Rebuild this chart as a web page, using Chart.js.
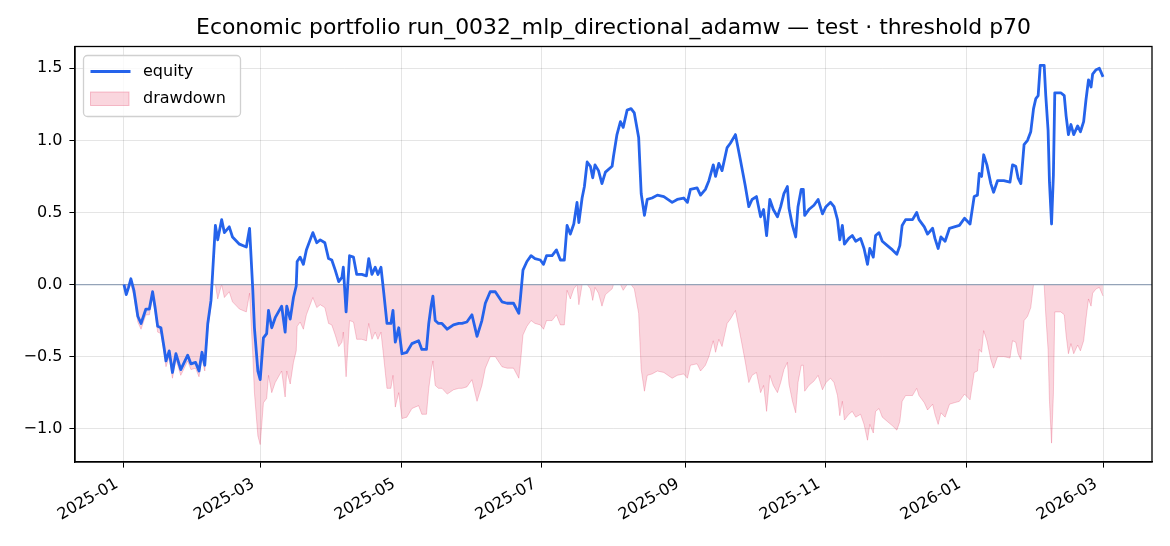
<!DOCTYPE html>
<html>
<head>
<meta charset="utf-8">
<script src="https://cdn.jsdelivr.net/npm/chart.js@4.4.1/dist/chart.umd.min.js"></script>
<style>
html, body { margin: 0; padding: 0; background: #fff; }
</style>
</head>
<body>
<canvas id="portfolioChart" width="1170" height="546"></canvas>
<script>
// days since 2025-01-01
var days = [0, 1, 2, 3, 4.3, 6, 7.4, 9.5, 11, 12.4, 13.5, 14.6, 16, 17.4, 18.2, 19.6, 21, 22.5, 24.6, 27.6,
    29, 31, 32.5, 33.8, 35, 36.3, 37.7, 38.4, 39.6, 40.6, 42.3, 43.5, 45.6, 47, 50, 53, 54.4, 55.8, 56.5, 58,
    59, 60.4, 61.8, 62.6, 64, 65.5, 68.3, 69.8, 70.5, 72, 73.4, 74.6, 75, 76.3, 77.7, 79, 81.8, 83.5, 85, 87,
    88.6, 90, 91.5, 93, 94.4, 95, 96.2, 97.7, 99.4, 100.8, 103, 105, 106, 107.4, 108.8, 110, 111.3, 112.4, 113.9, 115.6,
    116.5, 117.5, 119, 120.4, 122.5, 124.7, 127.6, 129, 131, 132, 133, 133.8, 134.8, 136.2, 137.7, 140, 142.7, 145, 146.4, 148.5,
    150.7, 152.9, 155, 156.5, 158.6, 160.8, 163.7, 165.9, 168.7, 171, 171.6, 172.8, 174.5, 176.3, 178, 180.3, 181.7, 183, 185.4, 187.3,
    189, 190.7, 191.9, 193.3, 194.8, 196.2, 197, 198.4, 199.4, 200.6, 202, 203, 204, 205.5, 207, 208.5, 211.4, 212, 213.5, 215,
    216.2, 217.9, 219.6, 221, 222.9, 224, 225.4, 226.6, 228.7, 231, 233.8, 237.4, 239.6, 242.4, 244, 245.3, 248.2, 249.7, 251.8, 253.3,
    255.2, 256.2, 257.6, 259, 261.2, 262.6, 264.8, 267, 269, 270.6, 272, 273.9, 275.7, 277, 278.3, 279.7, 281.2, 283, 284.4, 285.8,
    287.3, 288, 289.5, 290.9, 291.9, 293.3, 294.2, 294.8, 296.6, 298.8, 300.6, 302.5, 304, 306, 307.5, 309, 310, 311.1, 312, 313.9,
    315.4, 316.9, 319, 320.5, 322, 323, 324.5, 325.5, 327, 328.4, 330.6, 332.8, 334.7, 336, 337, 338.5, 341.5, 343.3, 344.3, 346.6,
    348, 350.2, 351.2, 352.6, 353.8, 355.6, 357.5, 359.6, 361.8, 364, 366.4, 368.2, 369.6, 370.4, 371.4, 372.3, 373.7, 375.4, 376.6, 378.3,
    381, 383.7, 384.8, 386.2, 387.2, 388.4, 389.8, 391.3, 392.7, 393.9, 394.9, 395.9, 396.8, 398.5, 399.2, 400.2, 400.8, 401.7, 402.5, 403.1,
    405.7, 407.2, 408, 409, 410.1, 411.3, 413, 414.2, 415.6, 416.6, 417.7, 418.8, 419.5, 421, 422.4, 424];

var equity = [0.00, -0.07, -0.02, 0.04, -0.04, -0.22, -0.27, -0.17, -0.17, -0.05, -0.16, -0.29, -0.30, -0.44, -0.53, -0.46, -0.61, -0.48, -0.59, -0.49,
    -0.55, -0.54, -0.60, -0.47, -0.56, -0.27, -0.11, 0.08, 0.41, 0.31, 0.45, 0.36, 0.40, 0.33, 0.28, 0.26, 0.39, -0.04, -0.30, -0.60,
    -0.66, -0.37, -0.34, -0.18, -0.30, -0.23, -0.15, -0.33, -0.15, -0.24, -0.09, -0.01, 0.16, 0.19, 0.14, 0.24, 0.36, 0.29, 0.31, 0.29,
    0.18, 0.17, 0.10, 0.02, 0.05, 0.12, -0.19, 0.20, 0.19, 0.07, 0.07, 0.06, 0.18, 0.07, 0.12, 0.07, 0.12, -0.04, -0.27, -0.27,
    -0.18, -0.40, -0.30, -0.48, -0.47, -0.41, -0.39, -0.45, -0.45, -0.27, -0.15, -0.08, -0.25, -0.27, -0.27, -0.31, -0.28, -0.27, -0.27, -0.26,
    -0.21, -0.36, -0.25, -0.13, -0.05, -0.05, -0.12, -0.13, -0.13, -0.20, -0.11, 0.10, 0.16, 0.20, 0.18, 0.17, 0.14, 0.20, 0.20, 0.24,
    0.17, 0.17, 0.41, 0.35, 0.42, 0.57, 0.43, 0.60, 0.68, 0.85, 0.82, 0.74, 0.83, 0.79, 0.70, 0.78, 0.82, 0.89, 1.04, 1.13,
    1.09, 1.21, 1.22, 1.19, 1.02, 0.63, 0.48, 0.59, 0.60, 0.62, 0.61, 0.57, 0.59, 0.60, 0.57, 0.66, 0.67, 0.62, 0.66, 0.72,
    0.83, 0.75, 0.84, 0.79, 0.95, 0.98, 1.04, 0.86, 0.69, 0.54, 0.59, 0.61, 0.47, 0.52, 0.34, 0.59, 0.52, 0.47, 0.54, 0.63,
    0.68, 0.53, 0.41, 0.33, 0.54, 0.66, 0.66, 0.48, 0.52, 0.55, 0.59, 0.49, 0.54, 0.57, 0.54, 0.45, 0.31, 0.41, 0.28, 0.32,
    0.34, 0.30, 0.32, 0.25, 0.14, 0.25, 0.19, 0.34, 0.36, 0.30, 0.27, 0.24, 0.21, 0.27, 0.41, 0.45, 0.45, 0.50, 0.45, 0.40,
    0.35, 0.39, 0.32, 0.25, 0.33, 0.30, 0.39, 0.40, 0.41, 0.46, 0.42, 0.61, 0.62, 0.77, 0.75, 0.90, 0.83, 0.70, 0.64, 0.72,
    0.72, 0.71, 0.83, 0.82, 0.74, 0.70, 0.97, 1.00, 1.06, 1.22, 1.29, 1.31, 1.52, 1.52, 1.31, 1.07, 0.71, 0.42, 0.76, 1.33,
    1.33, 1.31, 1.17, 1.04, 1.11, 1.04, 1.10, 1.06, 1.13, 1.28, 1.42, 1.37, 1.46, 1.49, 1.50, 1.44];

var drawdown = [0.00, -0.07, -0.02, 0.00, -0.08, -0.26, -0.31, -0.21, -0.21, -0.09, -0.20, -0.33, -0.34, -0.48, -0.57, -0.50, -0.65, -0.52, -0.63, -0.53,
    -0.59, -0.58, -0.64, -0.51, -0.60, -0.31, -0.15, 0.00, 0.00, -0.10, 0.00, -0.09, -0.05, -0.12, -0.17, -0.19, -0.06, -0.49, -0.75, -1.05,
    -1.11, -0.82, -0.79, -0.63, -0.75, -0.68, -0.60, -0.78, -0.60, -0.69, -0.54, -0.46, -0.29, -0.26, -0.31, -0.21, -0.09, -0.16, -0.14, -0.16,
    -0.27, -0.28, -0.35, -0.43, -0.40, -0.33, -0.64, -0.25, -0.26, -0.38, -0.38, -0.39, -0.27, -0.38, -0.33, -0.38, -0.33, -0.49, -0.72, -0.72,
    -0.63, -0.85, -0.75, -0.93, -0.92, -0.86, -0.84, -0.90, -0.90, -0.72, -0.60, -0.53, -0.70, -0.72, -0.72, -0.76, -0.73, -0.72, -0.72, -0.71,
    -0.66, -0.81, -0.70, -0.58, -0.50, -0.50, -0.57, -0.58, -0.58, -0.65, -0.56, -0.35, -0.29, -0.25, -0.27, -0.28, -0.31, -0.25, -0.25, -0.21,
    -0.28, -0.28, -0.04, -0.10, -0.03, 0.00, -0.14, 0.00, 0.00, 0.00, -0.03, -0.11, -0.02, -0.06, -0.15, -0.07, -0.03, 0.00, 0.00, 0.00,
    -0.04, 0.00, 0.00, -0.03, -0.20, -0.59, -0.74, -0.63, -0.62, -0.60, -0.61, -0.65, -0.63, -0.62, -0.65, -0.56, -0.55, -0.60, -0.56, -0.50,
    -0.39, -0.47, -0.38, -0.43, -0.27, -0.24, -0.18, -0.36, -0.53, -0.68, -0.63, -0.61, -0.75, -0.70, -0.88, -0.63, -0.70, -0.75, -0.68, -0.59,
    -0.54, -0.69, -0.81, -0.89, -0.68, -0.56, -0.56, -0.74, -0.70, -0.67, -0.63, -0.73, -0.68, -0.65, -0.68, -0.77, -0.91, -0.81, -0.94, -0.90,
    -0.88, -0.92, -0.90, -0.97, -1.08, -0.97, -1.03, -0.88, -0.86, -0.92, -0.95, -0.98, -1.01, -0.95, -0.81, -0.77, -0.77, -0.72, -0.77, -0.82,
    -0.87, -0.83, -0.90, -0.97, -0.89, -0.92, -0.83, -0.82, -0.81, -0.76, -0.80, -0.61, -0.60, -0.45, -0.47, -0.32, -0.39, -0.52, -0.58, -0.50,
    -0.50, -0.51, -0.39, -0.40, -0.48, -0.52, -0.25, -0.22, -0.16, 0.00, 0.00, 0.00, 0.00, 0.00, -0.21, -0.45, -0.81, -1.10, -0.76, -0.19,
    -0.19, -0.21, -0.35, -0.48, -0.41, -0.48, -0.42, -0.46, -0.39, -0.24, -0.10, -0.15, -0.06, -0.03, -0.02, -0.08];

var tickDays = [0, 59, 120, 181, 243, 304, 365, 424];
var tickLabels = ["2025-01", "2025-03", "2025-05", "2025-07", "2025-09", "2025-11", "2026-01", "2026-03"];
var yTicks = [-1.0, -0.5, 0.0, 0.5, 1.0, 1.5];

var chartTitle = "Economic portfolio run_0032_mlp_directional_adamw \u2014 test \u00b7 threshold p70";
var FONT = "DejaVu Sans";

function toPoints(ys) {
    return days.map(function (d, i) { return { x: d, y: ys[i] }; });
}

var framePlugin = {
    id: "frame",
    beforeDatasetDraw: function (chart, args) {
        // zero line sits under the equity curve
        if (args.index !== 0) return;
        var ctx = chart.ctx, area = chart.chartArea;
        var y0 = chart.scales.y.getPixelForValue(0);
        ctx.save();
        ctx.strokeStyle = "#94a3b8";
        ctx.lineWidth = 1.2;
        ctx.beginPath();
        ctx.moveTo(area.left, y0);
        ctx.lineTo(area.right, y0);
        ctx.stroke();
        ctx.restore();
    },
    afterDraw: function (chart) {
        var ctx = chart.ctx, a = chart.chartArea;
        ctx.save();
        ctx.strokeStyle = "#000";
        ctx.lineWidth = 1.3;
        ctx.strokeRect(a.left, a.top, a.right - a.left, a.bottom - a.top);

        // title centred over the axes, as matplotlib does
        ctx.fillStyle = "#000";
        ctx.font = "21.9px " + FONT;
        ctx.textAlign = "center";
        ctx.textBaseline = "middle";
        ctx.fillText(chartTitle, (a.left + a.right) / 2, a.top - 18.5);

        // legend box, upper left
        var bx = a.left + 8.5, by = a.top + 9, bw = 157, bh = 61;
        ctx.beginPath();
        ctx.roundRect(bx, by, bw, bh, 4);
        ctx.fillStyle = "rgba(255,255,255,0.8)";
        ctx.fill();
        ctx.strokeStyle = "#d0d0d0";
        ctx.lineWidth = 1.3;
        ctx.stroke();

        var ds = chart.data.datasets;
        ctx.strokeStyle = ds[0].borderColor;
        ctx.lineWidth = ds[0].borderWidth;
        ctx.beginPath();
        ctx.moveTo(bx + 7, by + 16);
        ctx.lineTo(bx + 47, by + 16);
        ctx.stroke();

        ctx.fillStyle = "rgba(225,29,72,0.18)";
        ctx.fillRect(bx + 7, by + 36.5, 38.5, 13.5);
        ctx.strokeStyle = "rgba(225,29,72,0.25)";
        ctx.lineWidth = 1;
        ctx.strokeRect(bx + 7, by + 36.5, 38.5, 13.5);

        ctx.fillStyle = "#000";
        ctx.font = "16px " + FONT;
        ctx.textBaseline = "middle";
        ctx.textAlign = "left";
        ctx.fillText(ds[0].label, bx + 59.5, by + 16);
        ctx.fillText(ds[1].label, bx + 59.5, by + 43.5);
        ctx.restore();
    }
};

var ctx = document.getElementById("portfolioChart").getContext("2d");
var myChart = new Chart(ctx, {
    type: "line",
    data: {
        datasets: [
            {
                label: "equity",
                data: toPoints(equity),
                borderColor: "#2563eb",
                borderWidth: 2.8,
                borderJoinStyle: "round",
                pointRadius: 0,
                tension: 0,
                fill: false,
            },
            {
                label: "drawdown",
                data: toPoints(drawdown),
                borderColor: "rgba(225,29,72,0.22)",
                backgroundColor: "rgba(225,29,72,0.18)",
                borderWidth: 1,
                pointRadius: 0,
                tension: 0,
                fill: "origin",
            },
        ],
    },
    options: {
        responsive: false,
        animation: false,
        events: [],
        layout: { padding: { top: 46.5, right: 18, left: 0, bottom: 0 } },
        plugins: {
            legend: { display: false },
            tooltip: { enabled: false },
            title: { display: false },
        },
        scales: {
            x: {
                type: "linear",
                min: -21.2,
                max: 445.2,
                afterBuildTicks: function (s) {
                    s.ticks = tickDays.map(function (v) { return { value: v }; });
                },
                afterFit: function (s) { s.height = 84; },
                ticks: {
                    autoSkip: false,
                    minRotation: 30,
                    maxRotation: 30,
                    padding: 7,
                    labelOffset: -7,
                    color: "#000",
                    font: { family: FONT, size: 16 },
                    callback: function (v, i) { return tickLabels[i]; },
                },
                grid: { color: "rgba(0,0,0,0.1)", tickColor: "#000", tickLength: 5.6 },
                border: { color: "#000", width: 1.3 },
            },
            y: {
                min: -1.231,
                max: 1.651,
                afterBuildTicks: function (s) {
                    s.ticks = yTicks.map(function (v) { return { value: v }; });
                },
                afterFit: function (s) { s.width = 75; },
                ticks: {
                    padding: 7,
                    color: "#000",
                    font: { family: FONT, size: 16 },
                    callback: function (v) { return (v < 0 ? "\u2212" : "") + Math.abs(v).toFixed(1); },
                },
                grid: { color: "rgba(0,0,0,0.1)", tickColor: "#000", tickLength: 5.6 },
                border: { color: "#000", width: 1.3 },
            },
        },
    },
    plugins: [framePlugin],
});
</script>
</body>
</html>
